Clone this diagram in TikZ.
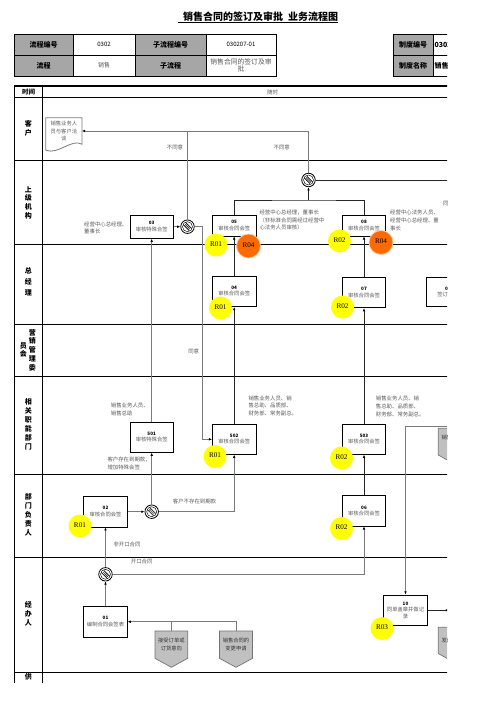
\documentclass[tikz,border=0pt]{standalone}
\usepackage{fontspec}
\setmainfont{Noto Sans CJK SC}
\newfontfamily\rfont{Liberation Serif}
\usetikzlibrary{calc,arrows.meta}
\definecolor{hdrgray}{HTML}{A6A6A6}
\definecolor{txtgray}{HTML}{5A5A5A}
\definecolor{lngray}{HTML}{7A7A7A}
\definecolor{pentgray}{HTML}{C0C0C0}
\definecolor{rorange}{HTML}{FF6A00}
\definecolor{ryellow}{HTML}{FFFF00}
\newcommand{\fs}[2]{\fontsize{#1}{#2}\selectfont}
\newcommand{\bxn}[2]{\textcolor{black}{\fs{4.6}{5.5}\bfseries #1}\\#2}
\tikzset{
 hcell/.style={draw, line width=0.8pt, fill=hdrgray, minimum height=21pt, inner sep=0pt, font=\fs{7}{8}\bfseries},
 vcell/.style={draw, line width=0.8pt, fill=white, minimum height=21pt, inner sep=0pt, align=center, font=\fs{6}{7.2}},
 lanelbl/.style={inner sep=0pt, align=center},
 note/.style={font=\fs{5.4}{7.6}, text=txtgray, align=left, inner sep=0pt, anchor=west},
 clabel/.style={font=\fs{5.4}{7.6}, text=txtgray, inner sep=0pt},
 box/.style={draw, line width=0.7pt, fill=white, minimum width=43.4pt, inner sep=0.5pt, align=center, text=txtgray, font=\fs{5.3}{6.4}},
 rY/.style={circle, fill=ryellow, minimum size=23pt, inner sep=0pt, font=\rfont\fs{7.2}{8}, text=black},
 rO/.style={rY, fill=rorange, minimum size=24pt, draw=rorange!35, line width=0.8pt},
 gate/.style={circle, draw=black, line width=0.8pt, fill=white, minimum size=13.5pt, inner sep=0pt,
   path picture={\begin{scope}[shift={(path picture bounding box.center)}, line width=0.45pt]
     \draw (0,0) circle (5pt);
     \draw (-1.9,-4.3) -- (4.3,1.9);
     \draw (-4.3,-1.9) -- (1.9,4.3);
     \draw (-0.78,-3.18) -- (-3.18,-0.78);
     \draw (0.21,-2.19) -- (-2.19,0.21);
     \draw (1.2,-1.2) -- (-1.2,1.2);
     \draw (2.19,-0.21) -- (-0.21,2.19);
     \draw (3.18,0.78) -- (0.78,3.18);
   \end{scope}}},
 cb/.style={line width=0.7pt, draw=black!85},
 cg/.style={line width=0.85pt, draw=lngray},
 arr/.style={-{Latex[length=3.2pt,width=2.6pt,color=black]}},
 laneline/.style={line width=0.8pt},
 bigline/.style={line width=1.5pt},
 pent/.style={draw=black!55, line width=0.7pt, fill=pentgray},
 ptxt/.style={inner sep=0pt, minimum width=32.7pt, minimum height=27.3pt, align=center, font=\fs{5.3}{7.6}, text=black!80},
}
\begin{document}
\begin{tikzpicture}[x=1pt,y=-1pt]
\useasboundingbox (0,0) rectangle (496,702);
\begin{scope}
\clip (0,0) rectangle (447,682);

% title
\node[font=\fs{10}{12}\bfseries, inner sep=0pt] (ttl) at (260.5,17) {销售合同的签订及审批\hspace{5pt}业务流程图};
\draw[line width=0.7pt] (178.3,22.8) -- (338.3,22.8);

% header table
\node[hcell, minimum width=58.7pt] (h11) at (43.65,44.5) {流程编号};
\node[vcell, minimum width=62pt] (h12) at (104,44.5) {0302};
\node[hcell, minimum width=71pt] (h13) at (170.5,44.5) {子流程编号};
\node[vcell, minimum width=70pt] (h14) at (241,44.5) {030207-01};
\node[hcell, minimum width=58.7pt] (h21) at (43.65,65.5) {流程};
\node[vcell, minimum width=62pt, text=txtgray] (h22) at (104,65.5) {销售};
\node[hcell, minimum width=71pt] (h23) at (170.5,65.5) {子流程};
\node[vcell, minimum width=70pt, text=txtgray, font=\fs{6.8}{7}] (h24) at (241,65.5) {销售合同的签订及审\\批};
\node[hcell, minimum width=40pt] (h15) at (413,44.5) {制度编号};
\node[vcell, minimum width=67pt, text width=64pt, align=left, font=\fs{7}{8}\bfseries] (h16) at (466.5,44.5) {0302};
\node[hcell, minimum width=40pt] (h25) at (413,65.5) {制度名称};
\node[vcell, minimum width=67pt, text width=64pt, align=left, font=\fs{7}{8}\bfseries] (h26) at (466.5,65.5) {销售合同的签订及审批};

% swimlane frame
\draw[bigline] (14.3,86) -- (460,86);
\draw[bigline] (14.3,97.7) -- (460,97.7);
\foreach \yy in {160,244,324.5,376,474,557.3,672} \draw[laneline] (14.3,\yy) -- (460,\yy);
\draw[bigline] (14.3,86) -- (14.3,690);
\draw[laneline] (42.7,86) -- (42.7,690);

\node[font=\fs{6.5}{7}\bfseries, inner sep=0pt] (tm) at (28.5,92) {时间};
\node[font=\fs{5.5}{6}, text=txtgray, inner sep=0pt] (tmv) at (272.5,92) {随时};

% lane labels
\node[lanelbl, font=\fs{7}{9}\bfseries] (l1) at (28.3,128.8) {客\\户};
\node[lanelbl, font=\fs{7}{8.7}\bfseries] (l2) at (28.3,202.5) {上\\级\\机\\构};
\node[lanelbl, font=\fs{7}{11}\bfseries] (l3) at (28.3,282) {总\\经\\理};
\node[lanelbl, font=\fs{7}{8.8}\bfseries] (l4a) at (32.3,350) {营\\销\\管\\理\\委};
\node[lanelbl, font=\fs{7}{8}\bfseries] (l4b) at (23.3,350) {员\\会};
\node[lanelbl, font=\fs{7}{9}\bfseries] (l5) at (28.3,424.3) {相\\关\\职\\能\\部\\门};
\node[lanelbl, font=\fs{7}{9}\bfseries] (l6) at (28.3,515.1) {部\\门\\负\\责\\人};
\node[lanelbl, font=\fs{7}{9}\bfseries] (l7) at (28.3,614) {经\\办\\人};
\node[lanelbl, font=\fs{7}{9}\bfseries] (l8) at (28.3,677.3) {供};

% document shape
\node[inner sep=0pt, minimum width=35.7pt, minimum height=26pt, align=center, text=txtgray, font=\fs{5.3}{7.6}] (doc) at (63.85,131) {销售业务人\\员与客户洽\\谈};
\draw[line width=0.8pt, draw=lngray] ($(doc.south west)+(0,6)$) -- (doc.north west) -- (doc.north east) -- (doc.south east) .. controls +(-10,-6) and +(12,5) .. ($(doc.south west)+(0,6)$);

% boxes
\node[box, minimum height=23.3pt] (b03) at (151.7,226.7) {\bxn{03}{审核特殊合签}};
\node[box, minimum height=21pt] (b05) at (234.2,225.5) {\bxn{05}{审核合同会签}};
\node[box, minimum height=21pt] (b08) at (364,225.5) {\bxn{08}{审核合同会签}};
\node[box, minimum height=30.7pt] (b04) at (234.2,291.3) {\bxn{04}{审核合同会签}};
\node[box, minimum height=30.4pt] (b07) at (364,292.5) {\bxn{07}{审核合同会签}};
\node[box, minimum height=29pt] (b09) at (448,292) {\bxn{09}{签订合同}};
\node[box, minimum height=30pt] (b501) at (151.7,437.3) {\bxn{501}{审核特殊合签}};
\node[box, minimum height=30pt] (b502) at (234.2,439.3) {\bxn{502}{审核合同会签}};
\node[box, minimum height=30pt] (b503) at (364,439.3) {\bxn{503}{审核合同会签}};
\node[box, minimum height=30.3pt] (b06) at (364,510.8) {\bxn{06}{审核合同会签}};
\node[box, minimum height=30.4pt] (b02) at (105.5,511.7) {\bxn{02}{审核合同会签}};
\node[box, minimum height=31.3pt] (b01) at (105.5,621.7) {\bxn{01}{编制合同会签表}};
\node[box, minimum height=30.7pt] (b10) at (405.5,610.3) {\bxn{10}{同单盖章并做记\\录}};

% gateways
\node[gate] (g1) at (187.5,226.7) {};
\node[gate] (g2) at (308.5,180) {};
\node[gate] (g3) at (151.7,511.7) {};
\node[gate] (g4) at (105.5,574.3) {};

% input pentagons
\draw[pent] (155,631) -- (187.7,631) -- (187.7,658.3) -- (171.35,667.3) -- (155,658.3) -- cycle;
\node[ptxt] (p1) at (171.35,644.65) {接受订单或\\订货意向};
\draw[pent] (219.5,631) -- (252.5,631) -- (252.5,658.3) -- (236,667.3) -- (219.5,658.3) -- cycle;
\node[ptxt] (p2) at (236,644.65) {销售合同的\\变更申请};
\draw[pent] (438.3,428.3) -- (471.3,428.3) -- (471.3,455) -- (454.8,464.2) -- (438.3,455) -- cycle;
\node[ptxt, minimum height=26.7pt] (p3) at (454.8,441.6) {销售合同会\\签表};
\draw[pent] (438.3,627.3) -- (471.3,627.3) -- (471.3,653.5) -- (454.8,662.7) -- (438.3,653.5) -- cycle;
\node[ptxt, minimum height=26.2pt] (p4) at (454.8,640.4) {发送给客户};

% connectors
\draw[cg,arr] (g1.north) |- (doc.east);
\draw[cg] (g2.north) |- (g1.north |- doc.east);
\draw[cg,arr] (b03.east) -- (g1.west);
\draw[cg,arr] (g1.east) -| ([xshift=-9.6pt]b502.west) -- (b502.west);
\draw[cg,arr] (b501.north) -- (b03.south);
\draw[cg,arr] (g3.north) -- (b501.south);
\draw[cg,arr] (b02.east) -- (g3.west);
\draw[cg,arr] (g3.east) -| (b502.south);
\draw[cb,arr] (b502.north) -- (b04.south);
\draw[cb,arr] (b04.north) -- (b05.south);
\coordinate (mg) at (308.5,200);
\draw[cb] (b05.north) |- (mg) -| (b08.north);
\draw[cb,arr] (mg) -- (g2.south);
\coordinate (g2out) at (470,180);
\draw[cb] (g2.east) -- (g2out);
\draw[cb,arr] (b07.north) -- (b08.south);
\draw[cb,arr] (b503.north) -- (b07.south);
\draw[cb,arr] (b06.north) -- (b503.south);
\draw[cg,arr] (g4.east) -| (b06.south);
\draw[cg,arr] (g4.north) -- (b02.south);
\draw[cg,arr] (b01.north) -- (g4.south);
\draw[cg,arr] (p2.north) |- (b01.east);
\draw[cg] (p1.north) -- (p1.north |- b01.east);
\coordinate (in10) at (470,426.7);
\draw[cg,arr] (in10) -| (b10.north);
\coordinate (out10) at (449,610.3);
\draw[cb,arr] (b10.east) -- (out10);

% annotations
\node[note] (a1) at (84,227.9) {经营中心总经理、\\董事长};
\node[note] (a2) at (259.3,220) {经营中心总经理，董事长\\（非标准合同需经过经营中\\心法务人员审核）};
\node[note] (a3) at (390,220.4) {经营中心法务人员、\\经营中心总经理、董\\事长};
\node[note] (a4) at (110.7,409.2) {销售业务人员、\\销售总助};
\node[note] (a5) at (107.3,463.5) {客户存在到期款，\\增加特殊会签};
\node[note] (a6) at (248.3,405.6) {销售业务人员、销\\售总助、品质部、\\财务部、常务副总。};
\node[note] (a7) at (375.7,406.5) {销售业务人员、销\\售总助、品质部、\\财务部、常务副总。};
\node[clabel] (c1) at (175,147.7) {不同意};
\node[clabel] (c2) at (281.7,147.7) {不同意};
\node[clabel] (c3) at (193.7,351) {同意};
\node[clabel] (c4) at (194.5,501) {客户不存在到期款};
\node[clabel] (c5) at (127,544.3) {非开口合同};
\node[clabel] (c6) at (141.7,561.7) {开口合同};
\node[clabel, anchor=west] (c7) at (443,203) {同意};

% risk markers
\node[rY] (r1) at (216,245) {\raisebox{2pt}{R01}};
\node[rO] (r2) at (248.5,246) {\raisebox{2pt}{R04}};
\node[rY] (r3) at (220.5,308) {\raisebox{2pt}{R01}};
\node[rY] (r4) at (339.5,241) {\raisebox{2pt}{R02}};
\node[rO] (r5) at (381,242.5) {\raisebox{2pt}{R04}};
\node[rY] (r6) at (342.5,307) {\raisebox{2pt}{R02}};
\node[rY] (r7) at (215,456.5) {\raisebox{2pt}{R01}};
\node[rY] (r8) at (341.5,458) {\raisebox{2pt}{R02}};
\node[rY] (r9) at (341.5,528.5) {\raisebox{2pt}{R02}};
\node[rY] (r10) at (80,526) {\raisebox{2pt}{R01}};
\node[rY] (r11) at (382,628.5) {\raisebox{2pt}{R03}};
\end{scope}
\end{tikzpicture}
\end{document}
